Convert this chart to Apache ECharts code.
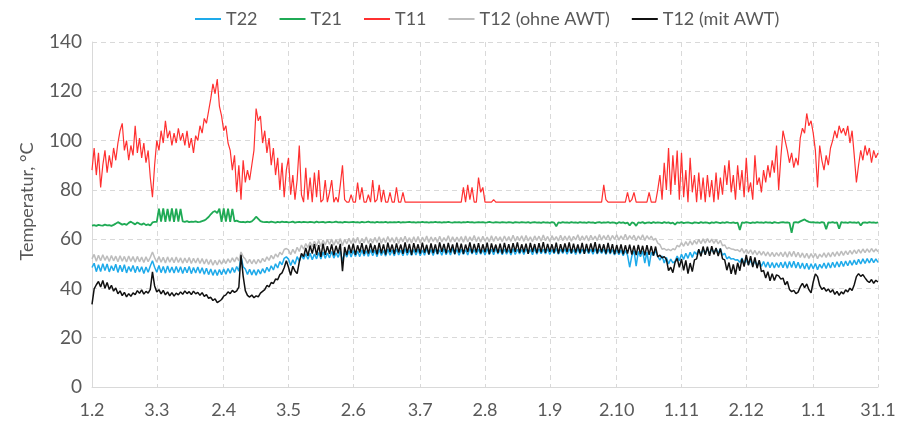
<!DOCTYPE html>
<html><head><meta charset="utf-8">
<script src="https://cdn.jsdelivr.net/npm/echarts@6/dist/echarts.min.js"></script>
<style>html,body{margin:0;padding:0;background:#fff}#c{width:908px;height:429px}</style>
</head><body><div id="c"></div>
<script>
const xLabels = ['1.2','3.3','2.4','3.5','2.6','3.7','2.8','1.9','2.10','1.11','2.12','1.1','31.1'];
const xLabelDays = [0,30,61,91,121,152,182,212,243,273,303,334,364];
const yTicks = [0,20,40,60,80,100,120,140];

const T11 = [
88,97,86,95,81,90,96,87,94,89,
97,92,99,104,107,96,100,92,98,94,
106,95,101,93,99,91,96,85,77,90,
100,96,104,99,108,101,104,98,103,99,
105,100,103,98,104,97,101,95,102,100,
106,103,109,107,112,117,123,119,125,114,
110,104,106,99,96,88,94,79,90,76,
92,83,88,84,90,96,113,108,110,99,
104,95,101,90,97,86,93,80,91,77,
88,93,78,86,76,84,98,78,75,89,
76,85,75,87,77,88,75,76,84,75,
79,84,75,77,75,82,90,76,75,75,
78,75,75,83,76,81,75,75,78,75,
84,75,76,82,75,80,75,75,79,75,
75,81,75,75,79,75,75,75,75,75,
75,75,75,75,75,75,75,75,75,75,
75,75,75,75,75,75,75,75,75,75,
75,75,81,75,82,76,81,75,75,85,
79,81,75,75,75,75,76,75,75,75,
75,75,75,75,75,75,75,75,75,75,
75,75,75,75,75,75,75,75,75,75,
75,75,75,75,75,75,75,75,75,75,
75,75,75,75,75,75,75,75,75,75,
75,75,75,75,75,75,75,82,76,75,
75,75,75,75,75,75,75,75,79,75,
76,79,75,75,75,75,75,75,79,75,
75,75,80,86,76,91,80,97,78,94,
82,96,76,95,77,88,75,93,79,86,
75,87,76,85,75,86,77,84,75,87,
76,85,78,90,82,92,79,86,76,90,
80,88,77,93,79,83,76,94,82,85,
79,88,83,90,85,92,87,98,80,93,
104,100,96,91,95,89,93,90,101,105,
103,111,106,108,103,96,81,98,92,88,
94,90,97,100,104,101,106,103,105,102,
106,99,104,94,83,90,96,92,98,94,
97,91,96,93,95];

const T21 = [
65.5,65.7,65.4,65.8,65.6,65.5,65.9,65.6,65.7,65.4,
65.8,66.3,66.9,66.4,65.9,66.2,65.8,66.6,67.1,66.5,
66.0,66.8,66.2,65.9,66.4,65.7,66.0,65.5,66.8,67.0,
67.0,72.4,67.1,72.5,67.0,72.3,67.2,72.5,67.0,72.4,
67.1,72.3,67.2,67.0,67.3,66.9,67.1,67.0,67.2,66.9,
67.0,67.3,67.6,68.2,69.0,70.1,71.0,71.4,70.6,72.4,
67.0,72.5,67.1,72.4,67.0,72.3,67.2,67.5,67.1,66.9,
67.0,66.8,67.1,66.9,67.2,68.0,69.1,68.2,67.3,67.0,
66.9,67.0,66.8,67.1,66.9,66.7,67.0,66.8,67.1,66.9,
67.0,66.8,66.9,67.1,66.7,66.9,67.0,66.8,67.0,66.9,
66.8,67.0,66.9,66.7,67.1,66.8,66.9,67.0,66.7,66.9,
67.0,66.8,66.9,67.1,66.8,66.9,66.7,67.0,66.9,66.8,
66.9,67.0,66.8,66.9,66.7,67.0,66.8,66.9,67.1,66.8,
66.9,66.7,67.0,66.8,66.9,66.8,67.0,66.7,66.9,66.8,
66.9,66.8,67.0,66.7,66.9,66.8,66.9,67.0,66.8,66.9,
66.7,66.9,66.8,67.0,66.8,66.9,66.7,66.9,66.8,67.0,
66.8,66.9,66.7,66.9,66.8,67.0,66.8,66.7,66.9,66.8,
66.9,66.7,66.9,66.8,67.0,66.8,66.9,66.7,66.8,66.9,
66.8,66.9,66.7,66.8,67.0,66.8,66.7,66.9,66.8,66.7,
66.9,66.8,66.7,66.9,66.8,66.6,66.9,66.8,66.7,66.9,
66.8,66.7,66.9,66.6,66.8,66.9,66.7,66.8,66.6,66.9,
66.7,66.8,66.6,66.9,66.7,65.2,66.8,66.6,66.9,66.7,
66.8,66.6,66.9,66.7,66.8,66.6,66.9,66.7,66.8,66.6,
66.9,66.7,66.8,66.5,66.8,66.9,66.6,66.8,66.7,66.9,
66.6,66.8,66.7,66.3,66.9,66.6,66.8,66.4,66.7,65.5,
66.8,66.5,65.4,66.8,66.6,66.9,66.4,66.7,66.8,66.5,
66.9,66.6,66.8,66.7,66.5,66.9,66.6,66.8,66.4,66.7,
65.9,66.8,66.6,66.9,66.5,66.7,66.8,66.6,66.4,66.8,
66.7,66.5,66.9,66.6,66.8,66.7,66.4,66.8,66.6,66.9,
66.7,66.5,66.8,66.6,66.9,66.7,66.6,66.8,66.5,66.7,
63.7,66.8,66.6,66.9,66.7,66.5,66.8,66.6,66.9,66.7,
66.8,66.6,66.9,66.7,66.8,66.5,66.9,66.7,66.6,66.8,
66.9,66.7,66.8,66.6,62.6,66.8,66.9,66.7,67.2,67.6,
68.0,67.4,67.0,66.8,66.9,66.7,66.8,66.6,66.9,66.7,
64.0,66.8,66.7,66.9,66.6,66.8,64.2,66.9,66.7,66.8,
66.6,66.9,66.7,66.8,66.6,66.9,65.5,66.7,66.8,66.6,
66.9,66.7,66.8,66.6,66.8];

const T22 = [
48.5,50.2,46.8,49.6,46.9,50.0,47.3,49.9,46.7,49.2,
47.2,49.8,46.5,49.4,46.8,49.6,46.3,48.9,46.9,49.3,
46.4,49.0,46.7,48.8,46.1,48.7,46.6,49.1,51.2,48.6,
46.6,49.3,46.4,48.9,46.2,49.1,46.5,48.7,46.3,48.9,
46.5,48.8,46.1,48.6,46.4,48.9,46.0,48.5,46.3,48.7,
46.2,48.4,45.8,48.2,45.6,47.9,45.3,47.6,45.2,47.7,
45.6,47.9,45.8,48.1,46.2,48.5,46.5,48.9,47.0,53.0,
48.8,47.9,45.7,47.8,45.5,47.6,45.4,47.7,45.9,48.0,
46.3,48.6,46.9,49.2,47.5,50.0,48.3,50.9,49.6,52.2,
52.8,51.9,49.3,51.6,49.8,52.9,51.0,53.6,51.9,54.1,
51.8,54.3,51.6,54.0,52.0,54.6,51.9,54.8,52.2,54.4,
52.4,55.0,52.3,54.5,52.6,55.2,51.0,54.6,52.7,55.3,
52.8,55.4,53.0,55.2,52.9,55.6,53.2,55.3,53.0,55.7,
53.3,55.5,52.9,55.8,53.4,55.4,53.1,55.9,53.5,55.6,
53.2,56.0,53.6,55.5,53.3,56.1,53.5,55.7,53.4,55.8,
53.6,55.9,53.3,55.6,53.5,56.2,53.7,55.8,53.4,56.0,
53.8,55.7,53.5,56.1,53.7,55.6,53.6,56.3,53.9,55.8,
53.5,55.9,53.8,55.7,53.6,56.2,54.0,55.8,53.7,56.0,
53.9,55.7,53.6,56.1,53.8,55.9,53.7,56.2,54.0,55.8,
53.7,56.0,53.9,55.7,53.6,56.1,53.8,55.9,54.0,55.8,
53.8,56.1,54.1,55.8,53.7,56.3,53.9,56.0,54.1,55.9,
54.0,56.1,53.8,55.8,54.1,56.2,53.9,55.9,54.2,56.1,
53.9,56.0,54.1,55.8,53.8,56.2,54.0,55.9,54.2,56.1,
54.1,55.9,53.9,56.1,54.0,55.8,54.2,56.0,53.8,55.9,
54.0,55.8,53.6,55.7,53.7,55.6,53.3,55.4,53.5,48.6,
53.2,55.3,49.0,55.0,52.9,55.2,50.3,54.8,48.9,54.6,
53.3,55.4,53.0,51.5,53.2,50.3,52.6,49.9,51.9,50.4,
51.0,53.1,51.2,53.9,51.8,54.3,52.2,54.7,52.6,54.9,
53.8,55.7,53.7,56.0,54.0,56.2,54.1,56.1,54.3,56.3,
54.2,56.1,53.5,54.3,52.0,52.8,51.9,52.1,51.5,51.6,
50.6,52.3,49.8,51.9,49.6,51.5,49.2,51.4,49.0,51.1,
48.9,50.9,48.6,50.7,48.4,50.5,48.3,50.4,48.5,50.6,
48.4,50.8,48.2,50.9,48.5,51.0,48.3,50.6,48.1,50.3,
47.9,50.2,47.7,50.0,48.0,50.1,47.6,49.8,48.2,50.3,
48.1,50.4,48.3,50.6,48.5,50.8,48.7,51.0,48.9,51.1,
49.2,51.3,49.4,51.5,49.6,51.8,49.9,52.0,50.1,52.1,
50.3,52.2,50.5,52.0,50.6];

const T12ohne = [
52.0,53.8,51.0,53.5,51.2,53.7,51.4,53.2,50.9,53.4,
51.2,53.1,50.8,53.3,51.0,53.0,50.7,53.2,50.9,52.9,
50.6,53.0,50.8,52.7,50.5,52.8,50.9,52.6,54.8,52.5,
50.7,52.9,50.6,52.6,50.3,52.8,50.6,52.5,50.4,52.7,
50.5,52.4,50.2,52.3,50.4,52.5,50.1,52.2,50.3,52.3,
50.1,52.1,49.9,51.9,49.7,51.7,49.4,51.4,49.5,51.6,
49.8,51.8,50.1,52.0,50.5,52.4,50.8,52.7,51.2,54.8,
52.9,51.9,50.2,51.8,50.0,51.7,49.9,51.8,50.4,52.2,
50.9,52.8,51.4,53.4,52.0,54.0,52.7,54.7,53.7,55.8,
56.2,55.6,53.7,55.9,54.2,56.7,55.0,57.6,55.9,58.2,
56.6,58.8,56.9,59.1,57.2,59.5,57.0,59.6,57.6,59.8,
57.8,60.0,57.5,59.7,58.0,60.2,57.4,59.9,58.1,60.4,
58.2,60.5,58.4,60.8,58.1,60.3,58.5,60.9,58.3,60.2,
58.4,60.7,58.7,61.0,58.3,60.5,58.6,61.1,58.8,60.6,
58.5,60.9,58.2,60.7,58.9,61.2,58.7,60.6,58.4,61.0,
58.8,61.1,58.5,60.8,59.0,61.3,58.6,60.9,59.1,60.7,
58.7,61.2,58.9,60.6,59.2,61.4,58.8,61.0,59.0,60.8,
59.1,61.1,58.7,61.3,58.9,60.9,59.3,61.5,59.0,61.0,
58.8,61.2,59.2,60.8,58.9,61.4,59.1,61.1,59.4,60.9,
59.0,61.3,59.3,61.0,59.1,61.6,59.2,61.1,59.4,61.4,
59.1,61.5,59.3,60.9,59.0,61.3,59.5,61.2,59.2,61.7,
59.4,61.1,59.1,61.4,59.6,61.0,59.3,61.6,59.4,61.2,
59.5,61.4,59.2,61.1,59.7,61.8,59.4,61.3,59.6,61.5,
59.3,61.6,59.7,61.2,59.4,61.9,59.6,61.4,59.8,61.7,
59.5,61.5,59.9,61.8,59.6,61.3,59.8,62.0,59.7,61.4,
60.0,61.6,59.4,61.3,59.8,61.8,59.5,61.4,59.9,61.2,
59.6,60.3,58.4,57.8,55.9,56.2,55.5,55.9,55.3,56.1,
55.7,57.5,56.9,58.6,57.1,59.0,57.4,59.3,57.7,59.5,
58.0,59.9,58.2,60.1,58.4,60.2,58.6,60.0,58.3,59.8,
58.1,59.5,57.3,57.7,56.1,56.6,56.0,55.9,55.5,55.7,
54.9,56.2,54.3,55.9,54.1,55.7,53.8,55.4,53.6,55.1,
53.5,55.0,53.2,54.8,53.0,54.6,52.9,54.5,53.1,54.7,
52.9,54.9,52.7,55.0,53.0,55.1,52.8,54.7,52.6,54.4,
52.4,54.3,52.2,54.1,52.5,54.2,52.1,53.9,52.7,54.4,
52.6,54.5,52.8,54.7,53.0,54.9,53.2,55.1,53.4,55.2,
53.7,55.4,53.9,55.6,54.1,55.8,54.3,56.0,54.5,56.1,
54.6,56.2,54.8,56.0,54.9];

const T12mit = [
33.5,39.8,41.5,42.8,40.6,43.2,40.1,42.4,39.6,41.3,
38.9,40.2,37.8,39.0,37.1,38.4,36.6,37.9,36.8,38.2,
37.5,39.1,38.0,39.4,37.7,38.8,38.1,39.6,46.7,41.0,
38.6,39.5,37.8,39.2,37.4,38.6,37.0,38.3,36.9,38.1,
37.4,38.6,37.6,39.0,37.9,38.7,37.5,38.9,37.8,38.4,
37.2,38.3,36.8,37.5,36.0,36.4,35.1,35.8,34.2,34.8,
35.5,36.9,37.4,38.6,37.9,39.2,38.4,39.0,40.5,53.6,
45.0,39.1,37.2,36.5,37.3,36.2,37.0,36.6,38.1,38.8,
39.5,41.2,40.6,42.4,42.0,43.8,43.5,45.6,46.3,48.4,
51.2,48.6,45.3,49.0,47.1,46.0,50.8,54.2,52.9,56.4,
53.2,57.4,54.1,58.0,53.5,57.6,52.8,58.2,53.6,57.1,
54.0,57.9,53.4,57.3,54.2,58.1,47.0,56.8,53.5,57.7,
54.3,58.2,53.6,57.5,54.6,58.4,53.9,57.7,54.1,58.3,
54.5,57.6,53.8,58.5,54.2,57.9,53.7,58.6,54.8,57.8,
53.9,58.3,54.6,57.8,54.0,58.7,54.4,58.1,53.6,58.4,
54.7,57.9,54.1,58.6,54.5,57.7,53.8,58.3,54.3,57.9,
54.0,58.7,54.8,58.1,54.2,58.5,54.6,57.9,53.9,58.6,
54.5,58.2,54.0,57.8,54.8,58.7,54.3,58.1,54.6,58.4,
54.2,57.9,54.7,58.6,53.9,58.3,54.8,57.8,54.4,58.2,
54.1,58.5,54.6,58.0,54.3,58.4,54.9,58.7,54.5,57.9,
54.7,58.2,54.0,58.5,54.8,58.0,54.3,58.4,54.6,58.8,
54.4,58.1,54.9,57.9,54.5,58.6,54.1,58.0,54.7,58.3,
54.8,58.7,54.3,58.2,54.6,57.9,54.4,58.5,54.0,58.1,
54.5,58.3,54.8,58.8,54.2,58.1,54.7,57.9,54.1,58.5,
54.3,58.0,53.9,57.6,54.2,57.9,53.8,57.5,54.1,57.8,
53.7,57.4,53.5,57.7,53.9,57.3,53.4,57.6,53.6,57.2,
53.3,57.0,52.8,53.5,52.4,52.9,51.8,47.2,48.6,46.4,
50.6,52.2,48.6,51.9,47.3,51.4,46.0,50.3,46.8,51.6,
52.0,55.9,53.0,57.0,53.6,56.9,53.2,57.1,53.8,56.4,
53.1,56.2,52.0,51.6,47.4,50.5,45.9,49.7,45.6,50.4,
47.2,52.1,48.9,53.6,49.4,53.1,48.7,52.6,48.2,51.5,
46.8,47.3,44.2,46.8,43.1,46.0,43.2,45.5,45.1,43.8,
44.2,41.5,42.8,39.6,38.7,39.2,37.9,38.5,40.6,42.1,
40.3,41.8,39.5,38.2,42.6,45.9,44.8,41.2,39.6,40.3,
38.9,39.8,38.4,39.5,37.6,38.8,37.2,38.6,37.8,39.4,
38.6,40.1,39.2,41.5,44.8,46.0,44.9,45.6,44.3,43.1,
42.4,43.6,42.1,43.3,42.6];

const FONT = 'Lato';
const TXT = '#595959';
const GRIDC = '#d9d9d9';
const days = T11.map((_, i) => String(i));
const labelAt = {};
xLabelDays.forEach((d, i) => { labelAt[d] = xLabels[i]; });
const isLab = (i) => labelAt[i] !== undefined;

const chart = echarts.init(document.getElementById('c'), null, {renderer: 'canvas'});
const mk = (name, data, color, w) => ({
  name, type: 'line', data, symbol: 'none', showSymbol: false, silent: true,
  lineStyle: {color, width: w}, itemStyle: {color}, sampling: null, animation: false
});
chart.setOption({
  animation: false,
  textStyle: {fontFamily: FONT},
  grid: {left: 92, right: 30, top: 42, bottom: 42},
  legend: {
    top: 5, left: 190, itemWidth: 26, itemHeight: 2, itemGap: 22, icon: 'rect',
    textStyle: {color: TXT, fontSize: 18, fontFamily: FONT},
    data: ['T22','T21','T11','T12 (ohne AWT)','T12 (mit AWT)']
  },
  xAxis: {
    type: 'category', data: days, boundaryGap: false,
    axisLine: {show: true, lineStyle: {color: GRIDC, width: 1}},
    axisTick: {show: false},
    axisLabel: {interval: (i) => isLab(i), formatter: (v, i) => labelAt[i] || '', color: TXT, fontSize: 18, fontFamily: FONT, margin: 14},
    splitLine: {show: true, interval: (i) => isLab(i), lineStyle: {type: [5, 4], color: GRIDC}}
  },
  yAxis: {
    type: 'value', min: yTicks[0], max: yTicks[yTicks.length - 1], interval: 20,
    name: 'Temperatur, °C', nameLocation: 'middle', nameGap: 56,
    nameTextStyle: {color: TXT, fontSize: 18, fontFamily: FONT, padding: [0, 0, 0, 26]},
    axisLine: {show: true, lineStyle: {color: GRIDC}},
    axisTick: {show: false},
    axisLabel: {color: TXT, fontSize: 19, fontFamily: FONT, margin: 10},
    splitLine: {show: true, lineStyle: {type: [5, 4], color: GRIDC}}
  },
  series: [
    mk('T22', T22, '#1eaaea', 1.5),
    mk('T21', T21, '#1faa55', 1.8),
    mk('T11', T11, '#ff3030', 1.2),
    mk('T12 (ohne AWT)', T12ohne, '#bdbdbd', 1.5),
    mk('T12 (mit AWT)', T12mit, '#111111', 1.5)
  ]
});
</script></body></html>
